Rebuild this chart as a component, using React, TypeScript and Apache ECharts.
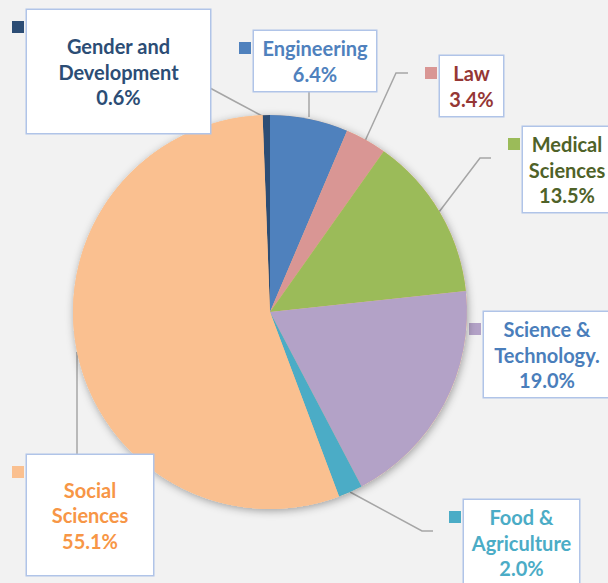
import React, { useEffect, useRef } from 'react';
import * as echarts from 'echarts';

// ---- data ----
const categories = [
  'Gender and Development',
  'Engineering',
  'Law',
  'Medical Sciences',
  'Science & Technology.',
  'Food & Agriculture',
  'Social Sciences',
];
const labelTexts = [
  'Gender and\nDevelopment',
  'Engineering',
  'Law',
  'Medical\nSciences',
  'Science &\nTechnology.',
  'Food &\nAgriculture',
  'Social\nSciences',
];
const shares = [0.6, 6.4, 3.4, 13.5, 19.0, 2.0, 55.1];

// ---- styles / layout ----
const sliceColors = ['#2c4d75', '#4f81bd', '#d99694', '#9bbb59', '#b3a2c7', '#4bacc6', '#fac090'];
const textColors = ['#2c4d75', '#4f81bd', '#953735', '#4f6228', '#4a7ebb', '#4bacc6', '#f79646'];

// label boxes: centre x, centre y, width, height
const boxes = [
  { cx: 118.5, cy: 71.5, w: 183, h: 123 },
  { cx: 315, cy: 61, w: 122, h: 60 },
  { cx: 471.5, cy: 86, w: 63, h: 60 },
  { cx: 567, cy: 169.5, w: 88, h: 85 },
  { cx: 547, cy: 354.5, w: 126, h: 85 },
  { cx: 521.5, cy: 542.5, w: 115, h: 85 },
  { cx: 90, cy: 515, w: 126, h: 120 },
];
const leaders: (number[][] | null)[] = [
  [[264, 117], [236, 102], [210, 88]],
  [[309, 117], [309, 104], [309, 91]],
  [[365, 141], [396, 73], [408, 73]],
  [[439, 212], [480, 158], [491, 158]],
  null,
  [[350, 492], [422, 531], [433, 531]],
  [[77, 352], [77, 400], [77, 455]],
];

const LINE_H = 25.5;
const FONT = 'Lato, "Open Sans", sans-serif';

export default function App() {
  const ref = useRef<HTMLDivElement>(null);

  useEffect(() => {
    document.body.style.margin = '0';
    document.body.style.background = '#f2f2f2';
    if (!ref.current) return;
    const chart = echarts.init(ref.current, null, { renderer: 'svg' });

    const data = categories.map((name, i) => {
      const nLines = labelTexts[i].split('\n').length + 1;
      const b = boxes[i];
      const padV = (b.h - nLines * LINE_H) / 2;
      return {
        name,
        value: shares[i],
        itemStyle: { color: sliceColors[i] },
        label: {
          color: textColors[i],
          width: b.w,
          padding: [padV, 0, padV, 0],
        },
        labelLine: { show: leaders[i] !== null },
      };
    });

    const markers = boxes.map((b, i) => ({
      type: 'rect',
      shape: { x: b.cx - b.w / 2 - 15, y: b.cy - b.h / 2 + 11, width: 12, height: 12 },
      style: { fill: sliceColors[i] },
      silent: true,
    }));

    chart.setOption({
      animation: false,
      backgroundColor: '#f2f2f2',
      series: [
        {
          type: 'pie',
          silent: true,
          center: [270, 312],
          radius: 197,
          data: [{ value: 1 }],
          itemStyle: {
            color: '#fac090',
            shadowBlur: 9,
            shadowColor: 'rgba(0,0,0,0.35)',
            shadowOffsetX: 1,
            shadowOffsetY: 2,
          },
          label: { show: false },
          labelLine: { show: false },
          emphasis: { disabled: true },
        },
        {
          type: 'pie',
          silent: true,
          center: [270, 312],
          radius: 197,
          startAngle: 92.16,
          clockwise: true,
          avoidLabelOverlap: false,
          emphasis: { disabled: true },
          data,
          label: {
            show: true,
            position: 'outside',
            formatter: (p: any) => `${labelTexts[p.dataIndex]}\n${shares[p.dataIndex].toFixed(1)}%`,
            fontFamily: FONT,
            fontWeight: 'bold',
            fontSize: 20,
            lineHeight: LINE_H,
            align: 'center',
            backgroundColor: '#ffffff',
            borderColor: '#b0c4e8',
            borderWidth: 1.5,
          },
          labelLine: {
            show: true,
            lineStyle: { color: '#a6a6a6', width: 1.5 },
          },
          labelLayout: (params: any) => {
            const i = params.dataIndex;
            const b = boxes[i];
            const res: any = { x: b.cx, y: b.cy, align: 'center', verticalAlign: 'middle' };
            if (leaders[i]) res.labelLinePoints = leaders[i];
            return res;
          },
        },
      ],
      graphic: markers,
    });

    return () => chart.dispose();
  }, []);

  return (
    <div
      ref={ref}
      style={{ position: 'fixed', left: 0, top: 0, width: 608, height: 583, background: '#f2f2f2' }}
    />
  );
}
